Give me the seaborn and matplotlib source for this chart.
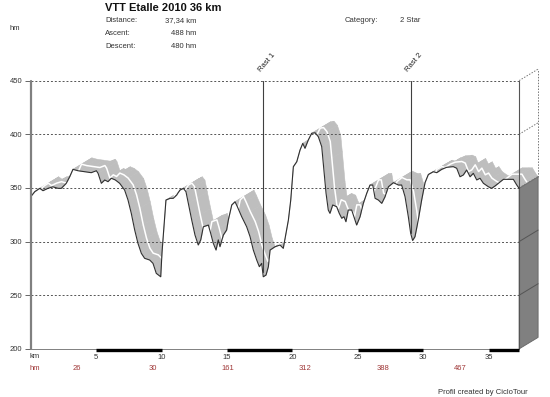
import numpy as np
import pandas as pd
import matplotlib
matplotlib.use("Agg")
import matplotlib.pyplot as plt
from matplotlib.collections import PolyCollection
import seaborn as sns

# ---------------- data ----------------
dist_km = [0.00, 0.31, 0.69, 0.94, 1.32, 1.70, 2.09, 2.34, 2.72, 2.98, 3.23, 3.62, 4.13, 4.63,
           5.02, 5.15, 5.40, 5.66, 5.91, 6.16, 6.47, 6.80, 7.18, 7.44, 7.69, 7.95, 8.20, 8.46,
           8.71, 9.10, 9.35, 9.60, 9.94, 10.04, 10.19, 10.34, 10.65, 10.90, 11.16, 11.41, 11.67,
           11.87, 12.05, 12.31, 12.56, 12.81, 13.00, 13.20, 13.58, 13.76, 13.96, 14.17, 14.34,
           14.47, 14.73, 14.98, 15.11, 15.37, 15.62, 15.80, 16.13, 16.51, 16.77, 17.02, 17.28,
           17.48, 17.66, 17.78, 17.99, 18.17, 18.30, 18.68, 19.06, 19.31, 19.52, 19.70, 19.88,
           20.08, 20.34, 20.59, 20.80, 20.97, 21.22, 21.48, 21.74, 21.99, 22.25, 22.37, 22.58,
           22.75, 22.88, 23.09, 23.39, 23.59, 23.78, 23.95, 24.10, 24.28, 24.54, 24.79, 24.92,
           25.18, 25.43, 25.69, 25.94, 26.15, 26.33, 26.58, 26.84, 27.09, 27.35, 27.73, 28.11,
           28.36, 28.62, 28.87, 29.05, 29.20, 29.38, 29.63, 29.89, 30.15, 30.40, 30.78, 31.04,
           31.42, 31.80, 32.31, 32.57, 32.82, 33.07, 33.33, 33.59, 33.84, 34.10, 34.35, 34.61,
           34.99, 35.24, 35.50, 35.76, 36.14, 36.65, 36.90, 37.16, 37.34]
elev_hm = [341.8, 346.5, 349.6, 347.4, 349.6, 351.0, 349.6, 349.6, 354.3, 360.4, 367.3, 366.0,
           365.1, 364.2, 366.0, 363.6, 354.3, 357.4, 355.8, 359.0, 357.4, 354.3, 348.0, 338.7,
           326.3, 310.8, 298.4, 289.0, 284.4, 282.8, 279.7, 270.4, 267.2, 290.0, 313.8, 338.7,
           340.3, 340.3, 343.4, 348.0, 349.6, 346.5, 335.6, 320.1, 306.1, 296.8, 301.6, 313.8,
           315.4, 307.7, 298.4, 292.1, 301.6, 295.2, 306.1, 310.8, 320.1, 334.1, 337.1, 332.5,
           323.2, 313.8, 304.6, 292.1, 282.8, 276.6, 279.7, 267.2, 268.8, 276.6, 292.1, 295.2,
           296.8, 293.7, 307.7, 320.1, 338.7, 369.8, 374.4, 385.3, 391.5, 386.9, 394.6, 400.9,
           401.4, 397.7, 388.4, 372.9, 345.0, 329.4, 326.3, 334.1, 332.5, 326.3, 321.7, 323.2,
           318.5, 329.4, 329.4, 320.1, 315.4, 323.2, 335.6, 345.0, 352.7, 352.7, 340.3, 338.7,
           335.6, 341.8, 351.1, 354.9, 352.7, 352.7, 341.8, 323.2, 307.7, 301.0, 304.6, 320.1,
           338.7, 355.0, 362.5, 365.1, 364.2, 367.3, 369.2, 369.8, 368.3, 360.4, 362.0, 366.7,
           360.4, 363.6, 357.4, 359.0, 354.3, 351.1, 349.6, 351.8, 354.3, 358.0, 358.0, 358.0,
           352.7, 349.6]

grid_levels = [250, 300, 350, 400, 450]
ytick_labels = ["200", "250", "300", "350", "400", "450"]
km_ticks = [5, 10, 15, 20, 25, 30, 35]
rest_names = ["Rast 1", "Rast 2"]
rest_km = [17.74, 29.05]
climb_km = [3.54, 9.35, 15.08, 20.97, 26.93, 32.82]
climb_hm = ["26", "30", "161", "312", "388", "467"]
title = "VTT Etalle 2010 36 km"
info_labels = ["Distance:", "Ascent:", "Descent:"]
info_values = ["37,34 km", "488 hm", "480 hm"]
category = "2 Star"

df = pd.DataFrame({"km": dist_km, "hm": elev_hm})
total_km = dist_km[-1]

# ---------------- style ----------------
sns.set_style("white")
plt.rcParams["font.family"] = ["Liberation Sans", "DejaVu Sans"]

W, H = 550, 397
fig = plt.figure(figsize=(W / 100, H / 100), dpi=100)
fig.patch.set_facecolor("white")

px_per_km = 13.08
px_per_hm = 1.073
dx = 19 / px_per_km      # 3D depth offset in km
dy = 11.5 / px_per_hm    # 3D depth offset in hm

left_px, right_px = 30.7, 30.7 + px_per_km * (total_km + dx)
top_px, bot_px = 80.6, 348.9
ax = fig.add_axes([left_px / W, 1 - bot_px / H, (right_px - left_px) / W, (bot_px - top_px) / H])
ax.set_xlim(0, total_km + dx)
ax.set_ylim(200, 450)
for s in ax.spines.values():
    s.set_visible(False)
ax.set_facecolor("white")

x = np.asarray(df["km"])
y = np.asarray(df["hm"])

# gray top surface of the 3D ribbon
polys = []
for i in range(len(x) - 1):
    polys.append([(x[i], y[i]), (x[i + 1], y[i + 1]),
                  (x[i + 1] + dx, y[i + 1] + dy), (x[i] + dx, y[i] + dy)])
pc = PolyCollection(polys, facecolors="#bebebe", edgecolors="#bebebe", linewidths=0.4,
                    zorder=1, clip_on=False)
ax.add_collection(pc)
# light stripe in the ribbon
ax.plot(x + 0.45 * dx, y + 0.45 * dy, color="white", lw=1.1, zorder=2, clip_on=False)

# white front face
ax.fill_between(x, y, 200, color="white", zorder=3, lw=0)

# grid lines (front plane) and slanted side lines
for g in grid_levels:
    ax.plot([0, total_km], [g, g], color="#555555", lw=0.7, ls=(0, (2, 2)), zorder=4,
            clip_on=False)

# dark end face
y_end = y[-1]
ax.add_patch(plt.Polygon([(total_km, y_end), (total_km + dx, y_end + dy),
                          (total_km + dx, 200 + dy), (total_km, 200)],
                         closed=True, facecolor="#808080", edgecolor="#666666", lw=0.6,
                         zorder=4, clip_on=False))
for g in grid_levels:
    if g < y_end:
        ax.plot([total_km, total_km + dx], [g, g + dy], color="#555555", lw=0.7, zorder=5,
                clip_on=False)
    else:
        ax.plot([total_km, total_km + dx], [g, g + dy], color="#777777", lw=0.7,
                ls=(0, (1.5, 1.5)), zorder=5, clip_on=False)
ax.plot([total_km + dx, total_km + dx], [y_end + dy, 450 + dy], color="#777777", lw=0.7,
        ls=(0, (1.5, 1.5)), zorder=5, clip_on=False)
ax.plot([total_km, total_km], [200, 450], color="#555555", lw=0.8, zorder=5)

# profile line
sns.lineplot(data=df, x="km", y="hm", color="#303030", lw=0.8, ax=ax, zorder=6,
             legend=False, sort=False)

# rest markers
for name, rk in zip(rest_names, rest_km):
    hk = np.interp(rk, x, y)
    ax.plot([rk, rk], [hk, 450], color="#404040", lw=0.8, zorder=7)
    ax.text(rk - 0.05, 457, name, rotation=50, rotation_mode="anchor", ha="left",
            va="bottom", fontsize=5.5, color="#222222", clip_on=False)

# left axis line and baseline
ax.plot([0, 0], [200, 450], color="#808080", lw=1.6, zorder=7, clip_on=False)
ax.plot([0, total_km], [200, 200], color="#808080", lw=0.7, zorder=7, clip_on=False)
for a in range(5, int(total_km) + 1, 10):
    ax.plot([a, min(a + 5, total_km)], [199.0, 199.0], color="black", lw=2.4,
            solid_capstyle="butt", zorder=8, clip_on=False)

# ticks
ax.set_yticks([200, 250, 300, 350, 400, 450])
ax.set_yticklabels(ytick_labels)
ax.set_xticks(km_ticks)
ax.set_xticklabels([str(k) for k in km_ticks])
ax.tick_params(axis="y", length=4, width=0.7, color="#666666", labelsize=5.5, pad=2,
               left=True, labelcolor="#333333")
ax.tick_params(axis="x", length=0, labelsize=5.5, pad=4, labelcolor="#333333")
ax.set_xlabel("")
ax.set_ylabel("")


def ftext(px, py, s, **kw):
    fig.text(px / W, 1 - py / H, s, **kw)


# header
ftext(105, 8, title, fontsize=8, fontweight="bold", va="center", color="#111111")
ftext(10, 28, "hm", fontsize=5.5, va="center", color="#333333")
for i, (lab, val) in enumerate(zip(info_labels, info_values)):
    yy = 20.5 + i * 13
    ftext(105, yy, lab, fontsize=5.5, va="center", color="#333333")
    ftext(196, yy, val, fontsize=5.5, va="center", ha="right", color="#333333")
ftext(345, 20.5, "Category:", fontsize=5.5, va="center", color="#333333")
ftext(400, 20.5, category, fontsize=5.5, va="center", color="#333333")

# bottom rows
ftext(30, 357, "km", fontsize=5.5, va="center", color="#333333")
ftext(30, 369, "hm", fontsize=5.5, va="center", color="#a03838")
for ck, cv in zip(climb_km, climb_hm):
    ax.text(ck, 0, cv, transform=ax.get_xaxis_transform(), fontsize=5.5, ha="center",
            va="center", color="#a03838")
# place climb labels at correct vertical offset
for t in ax.texts[-len(climb_hm):]:
    t.set_transform(ax.get_xaxis_transform() + matplotlib.transforms.ScaledTranslation(
        0, -(369 - bot_px) / 100, fig.dpi_scale_trans))
ftext(528, 392, "Profil created by CicloTour", fontsize=5.5, ha="right", va="center",
      color="#333333")

fig.savefig("out.png", dpi=100, facecolor="white")
